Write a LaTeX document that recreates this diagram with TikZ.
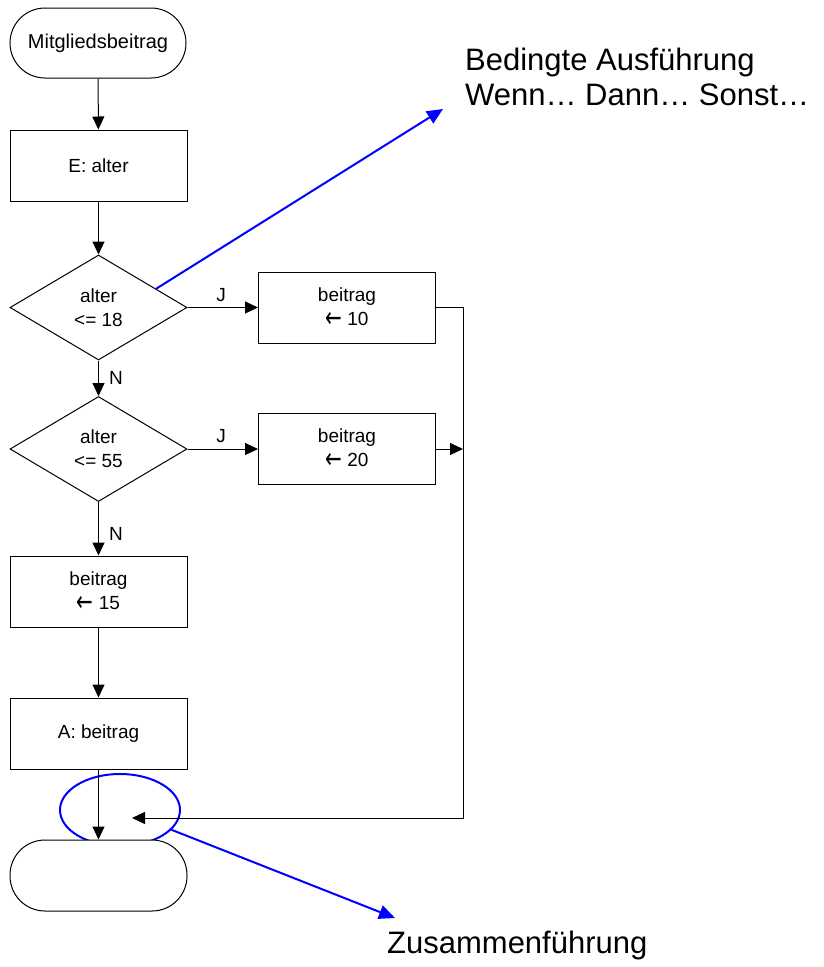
\documentclass[tikz,border=0pt]{standalone}
\usepackage{fontspec}
\setmainfont{Liberation Sans}
\newfontfamily\arrowfont{DejaVu Sans}
\newcommand{\assignarrow}{\raisebox{-2.2pt}{\scalebox{1.05}[1.5]{\arrowfont ←}}}
\usetikzlibrary{arrows.meta,shapes.geometric}

\begin{document}
\begin{tikzpicture}[x=1pt,y=-1pt,
  flow/.style={draw=black, line width=1pt, fill=white, font=\fontsize{19}{24}\selectfont,
               align=center, inner sep=0pt},
  procbox/.style={flow, rectangle, minimum width=177pt, minimum height=71pt},
  terminal/.style={flow, rectangle, rounded corners=35pt, minimum width=177pt, minimum height=71pt},
  decision/.style={flow, diamond, minimum width=177pt, minimum height=105pt},
  conn/.style={draw=black, line width=1pt, -{Triangle[length=13pt,width=12pt]}},
  note/.style={draw=blue, line width=2pt, -{Triangle[length=16pt,width=14pt]}},
  branchlbl/.style={font=\fontsize{19}{23}\selectfont, inner sep=0pt},
  caption/.style={font=\fontsize{31}{35}\selectfont, align=left, inner sep=0pt}]

\useasboundingbox (0,0) rectangle (823,967);

% flowchart nodes
\node[terminal, minimum width=176pt, minimum height=70pt, font=\fontsize{20}{24}\selectfont] (start) at (98,43) {Mitgliedsbeitrag};
\node[procbox] (input) at (98.5,165.5) {E: alter};
\node[decision] (d1) at (98.5,307.5) {alter\\<= 18};
\node[procbox] (b10) at (347,307.5) {beitrag\\\assignarrow{} 10};
\node[decision] (d2) at (98.5,449) {alter\\<= 55};
\node[procbox] (b20) at (347,449) {beitrag\\\assignarrow{} 20};
\node[procbox] (b15) at (98.5,591.5) {beitrag\\\assignarrow{} 15};
\node[procbox] (out) at (98.5,733.5) {A: beitrag};

% highlight of the merge point, partly covered by the end terminal
\node[draw=blue, line width=2pt, ellipse, minimum width=120pt, minimum height=72pt, inner sep=0pt] (merge) at (120,810) {};
\node[terminal] (end) at (98.5,875.5) {};

% branch labels
\node[branchlbl] (j1) at (221,295) {J};
\node[branchlbl] (n1) at (116,378) {N};
\node[branchlbl] (j2) at (221,436) {J};
\node[branchlbl] (n2) at (116,534) {N};

% routing points of the merge line
\coordinate (mx1) at (463,307.5);
\coordinate (mx2) at (463,449);
\coordinate (mbot) at (463,818);
\coordinate (mtip) at (132,818);

% connectors
\draw[conn] (start) -- (input);
\draw[conn] (input) -- (d1);
\draw[conn] (d1) -- (b10);
\draw[conn] (d1) -- (d2);
\draw[conn] (d2) -- (b20);
\draw[conn] (d2) -- (b15);
\draw[conn] (b15) -- (out);
\draw[conn] (out) -- (end);
\draw[conn] (b10.east) -- (mx1) -- (mbot) -- (mtip);
\draw[conn] (b20.east) -- (mx2);

% annotations
\coordinate (condTip) at (443,109);
\coordinate (zusTip) at (395,918);
\draw[note] (d1.18) -- (condTip);
\draw[note] (merge.-21) -- (zusTip);

\node[caption, anchor=north west] (cond) at (465,47.5) {Bedingte Ausführung\\Wenn… Dann… Sonst…};
\node[caption, anchor=base west] (zus) at (387,953) {Zusammenführung};
\end{tikzpicture}
\end{document}
